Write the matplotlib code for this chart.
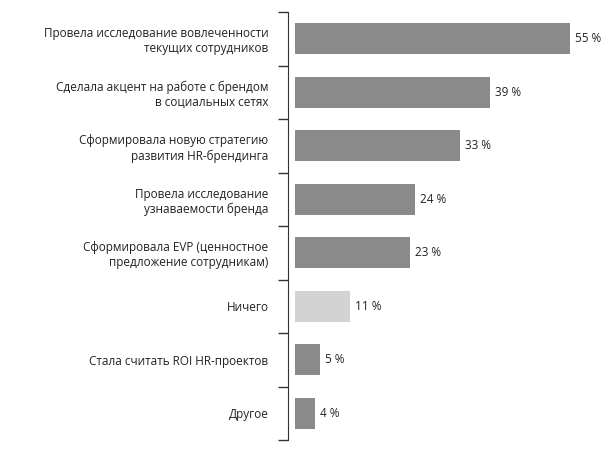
import matplotlib.pyplot as plt
import numpy as np

labels = ["Провела исследование вовлеченности\nтекущих сотрудников",
          "Сделала акцент на работе с брендом\nв социальных сетях",
          "Сформировала новую стратегию\nразвития HR-брендинга",
          "Провела исследование\nузнаваемости бренда",
          "Сформировала EVP (ценностное\nпредложение сотрудникам)",
          "Ничего",
          "Стала считать ROI HR-проектов",
          "Другое"]
values = [55, 39, 33, 24, 23, 11, 5, 4]
highlight = [False, False, False, False, False, True, False, False]

plt.rcParams["font.family"] = "Open Sans"
fig = plt.figure(figsize=(6.13, 4.54), dpi=100)
ax = fig.add_axes([288 / 613, 14 / 454, 325 / 613, 428 / 454])

y = np.arange(len(values))
colors = ["#d3d3d3" if h else "#8a8a8a" for h in highlight]
ax.barh(y, values, height=0.58, color=colors)
for yi, v in zip(y, values):
    ax.text(v + 1, yi, f"{v} %", va="center", ha="left", fontsize=8.5, color="#222222")

ax.set_xlim(-1.4, 63.6)
ax.set_ylim(len(values) - 0.5, -0.5)
ax.set_yticks(y)
ax.set_yticklabels(labels, fontsize=8.5, ha="right", color="#222222")
ax.set_yticks(np.arange(len(values) + 1) - 0.5, minor=True)
ax.tick_params(axis="y", which="major", length=0, pad=14)
ax.tick_params(axis="y", which="minor", length=7, width=1, color="#333333", direction="out")
ax.set_xticks([])
for s in ["top", "right", "bottom"]:
    ax.spines[s].set_visible(False)
ax.spines["left"].set_color("#333333")

fig.savefig("out.png", dpi=100)
